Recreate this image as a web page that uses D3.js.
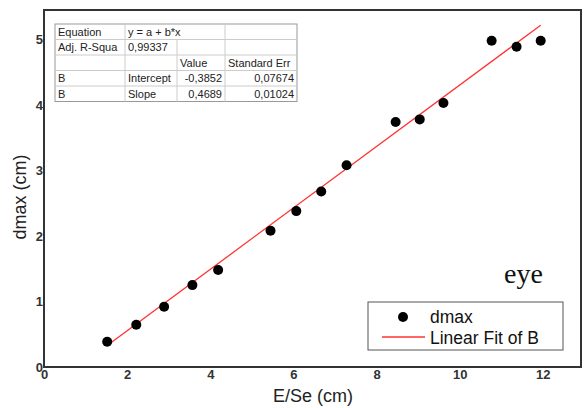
<!DOCTYPE html>
<meta charset="utf-8">
<style>
	body { margin: 0; background: #fff; }
	text { font-family: Arial, "Liberation Sans", sans-serif; }
	.tick text { font-size: 13px; font-weight: bold; fill: #333; }
	.cell { font-size: 11px; fill: #222; }
</style>
<body>
<script src="https://d3js.org/d3.v7.min.js"></script>
<script>
// measured points
var esx = [1.52, 2.22, 2.89, 3.57, 4.19, 5.45, 6.07, 6.67, 7.28, 8.46, 9.04, 9.61, 10.77, 11.37, 11.95];
var dmax = [0.385, 0.646, 0.92, 1.25, 1.48, 2.08, 2.38, 2.68, 3.08, 3.74, 3.78, 4.03, 4.98, 4.89, 4.98];

// fit results from the table
var intercept = -0.3852, slope = 0.4689;
var fitRange = [1.52, 11.95];

var xTicks = [0, 2, 4, 6, 8, 10, 12];
var yTicks = [0, 1, 2, 3, 4, 5];

var tableRows = [
	["Equation", "y = a + b*x", "", ""],
	["Adj. R-Squa", "0,99337", "", ""],
	["", "", "Value", "Standard Err"],
	["B", "Intercept", "-0,3852", "0,07674"],
	["B", "Slope", "0,4689", "0,01024"]];

var W = 584, H = 408;
var pL = 44, pT = 10, pR = 581, pB = 367;

var x = d3.scaleLinear().domain([0, 12.92]).range([pL, pR]);
var y = d3.scaleLinear().domain([0, 5.45]).range([pB, pT]);

var svg = d3.select("body").append("svg")
	.attr("width", W)
	.attr("height", H);

// frame
svg.append("rect")
	.attr("x", pL).attr("y", pT)
	.attr("width", pR - pL).attr("height", pB - pT)
	.attr("fill", "none")
	.attr("stroke", "#333")
	.attr("stroke-width", 2);

// axes (labels only)
var gx = svg.append("g")
	.attr("transform", "translate(0," + pB + ")")
	.call(d3.axisBottom(x).tickValues(xTicks).tickFormat(d3.format("d")).tickSize(0).tickPadding(3));
gx.select(".domain").remove();

var gy = svg.append("g")
	.attr("transform", "translate(" + pL + ",0)")
	.call(d3.axisLeft(y).tickValues(yTicks).tickFormat(d3.format("d")).tickSize(0).tickPadding(1));
gy.select(".domain").remove();

// axis titles
svg.append("text")
	.attr("x", 313)
	.attr("y", 402)
	.attr("text-anchor", "middle")
	.style("font-size", "18px")
	.style("fill", "#222")
	.text("E/Se (cm)");

svg.append("text")
	.attr("transform", "translate(26,197) rotate(-90)")
	.attr("text-anchor", "middle")
	.style("font-size", "18px")
	.style("fill", "#222")
	.text("dmax (cm)");

// fit line
svg.append("line")
	.attr("x1", x(fitRange[0])).attr("y1", y(intercept + slope * fitRange[0]))
	.attr("x2", x(fitRange[1])).attr("y2", y(intercept + slope * fitRange[1]))
	.attr("stroke", "#ff3333")
	.attr("stroke-width", 1.3);

// points
svg.selectAll(".pt")
	.data(esx)
	.enter().append("circle")
	.attr("class", "pt")
	.attr("cx", function(d) { return x(d); })
	.attr("cy", function(d, i) { return y(dmax[i]); })
	.attr("r", 5)
	.attr("fill", "#000");

// results table
var colX = [55, 125, 177, 225, 297];
var rowY = [24, 39.5, 55, 70.5, 86, 101.5];
var tbl = svg.append("g");
tbl.append("rect")
	.attr("x", colX[0]).attr("y", rowY[0])
	.attr("width", colX[4] - colX[0]).attr("height", rowY[5] - rowY[0])
	.attr("fill", "#fff")
	.attr("stroke", "#999");
rowY.slice(1, 5).forEach(function(ry) {
	tbl.append("line").attr("x1", colX[0]).attr("x2", colX[4])
		.attr("y1", ry).attr("y2", ry).attr("stroke", "#ccc");
});
colX.slice(1, 4).forEach(function(cx, j) {
	tbl.append("line").attr("x1", cx).attr("x2", cx)
		.attr("y1", j == 1 ? rowY[1] : rowY[0]).attr("y2", rowY[5])
		.attr("stroke", "#ccc");
});
tableRows.forEach(function(row, i) {
	row.forEach(function(t, j) {
		var alignRight = i >= 3 && j >= 2;
		tbl.append("text")
			.attr("class", "cell")
			.attr("x", alignRight ? colX[j + 1] - 3 : colX[j] + 3)
			.attr("y", rowY[i] + 11.5)
			.attr("text-anchor", alignRight ? "end" : "start")
			.text(t);
	});
});

// "eye" note
svg.append("text")
	.attr("x", 504).attr("y", 283)
	.style("font-family", "'Liberation Serif', 'Times New Roman', serif")
	.style("font-size", "28px")
	.style("fill", "#111")
	.text("eye");

// legend
var lg = svg.append("g");
lg.append("rect")
	.attr("x", 368).attr("y", 302)
	.attr("width", 195).attr("height", 48)
	.attr("fill", "#fff")
	.attr("stroke", "#555");
lg.append("circle").attr("cx", 403).attr("cy", 317).attr("r", 5).attr("fill", "#000");
lg.append("line").attr("x1", 382).attr("x2", 425).attr("y1", 337).attr("y2", 337)
	.attr("stroke", "#ff3333").attr("stroke-width", 1.3);
lg.append("text").attr("x", 430).attr("y", 323)
	.style("font-size", "17.5px").style("fill", "#111").text("dmax");
lg.append("text").attr("x", 430).attr("y", 344)
	.style("font-size", "17.5px").style("fill", "#111").text("Linear Fit of B");
</script>
</body>
